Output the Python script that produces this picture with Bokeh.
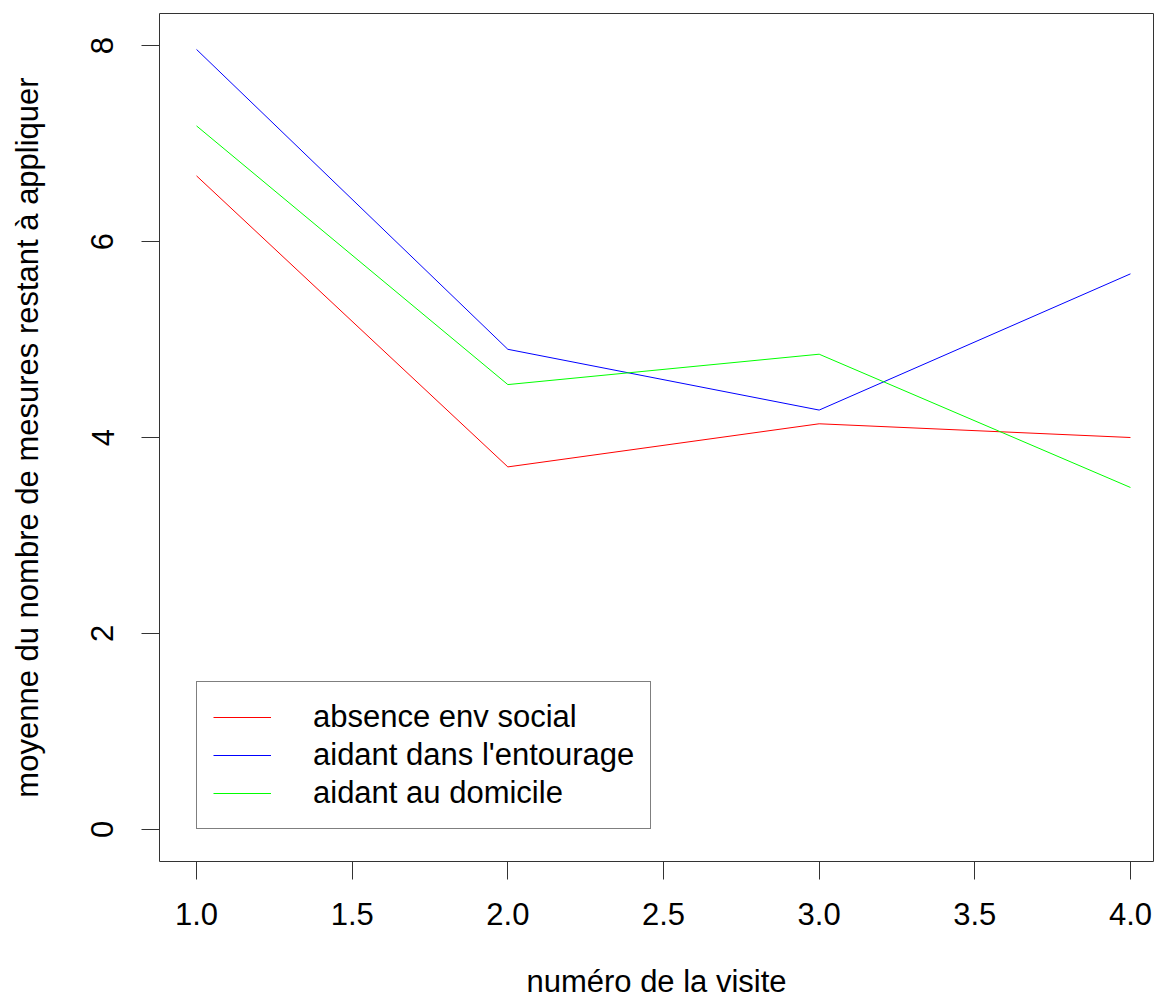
from bokeh.plotting import figure
from bokeh.models import Range1d, Legend, LegendItem, FixedTicker
from bokeh.embed import file_html
from bokeh.resources import INLINE

visites = [1, 2, 3, 4]
absence_env_social = [6.67, 3.70, 4.14, 4.00]
aidant_entourage = [7.96, 4.90, 4.28, 5.67]
aidant_domicile = [7.18, 4.54, 4.85, 3.49]
series_names = ["absence env social", "aidant dans l'entourage", "aidant au domicile"]
series_colors = ["#FF0000", "#0000FF", "#00FF00"]
x_ticks = [1.0, 1.5, 2.0, 2.5, 3.0, 3.5, 4.0]
y_ticks = [0, 2, 4, 6, 8]

FONT = "Liberation Sans"
FS = "31px"

p = figure(width=1154, height=1002, output_backend="svg", toolbar_location=None,
           x_range=Range1d(0.881, 4.074), y_range=Range1d(-0.327, 8.327),
           min_border_left=159, min_border_right=1, min_border_top=13, min_border_bottom=141)
p.background_fill_color = "white"
p.border_fill_color = "white"
p.grid.visible = False
p.outline_line_color = "#333333"
p.outline_line_width = 1

p.xaxis.axis_label = "numéro de la visite"
p.yaxis.axis_label = "moyenne du nombre de mesures restant à appliquer"
p.xaxis.ticker = FixedTicker(ticks=x_ticks)
p.yaxis.ticker = FixedTicker(ticks=y_ticks)
p.xaxis.major_label_overrides = {t: f"{t:.1f}" for t in x_ticks}
p.yaxis.major_label_overrides = {t: str(t) for t in y_ticks}
p.xaxis.bounds = (1, 4)
p.yaxis.bounds = (0, 8)
p.yaxis.major_label_orientation = "vertical"
for ax in (p.xaxis, p.yaxis):
    ax.major_tick_out = 18
    ax.major_tick_in = 0
    ax.minor_tick_line_color = None
    ax.axis_line_color = "#333333"
    ax.major_tick_line_color = "#333333"
    ax.major_label_text_font = FONT
    ax.major_label_text_font_size = FS
    ax.major_label_text_color = "black"
    ax.axis_label_text_font = FONT
    ax.axis_label_text_font_size = FS
    ax.axis_label_text_font_style = "normal"
    ax.axis_label_text_color = "black"
p.xaxis.major_label_standoff = 23
p.yaxis.major_label_standoff = 28
p.xaxis.axis_label_standoff = 36
p.yaxis.axis_label_standoff = 44

renderers = []
for ys, c in zip([absence_env_social, aidant_entourage, aidant_domicile], series_colors):
    r = p.line(visites, ys, line_color=c, line_width=1)
    renderers.append(r)

legend = Legend(items=[LegendItem(label=n, renderers=[r]) for n, r in zip(series_names, renderers)],
                location=(37, 32))
legend.label_text_font = FONT
legend.label_text_font_size = FS
legend.label_text_color = "black"
legend.glyph_width = 58
legend.glyph_height = 38
legend.label_height = 38
legend.label_standoff = 42
legend.spacing = 0
legend.padding = 16
legend.margin = 0
legend.border_line_color = "black"
legend.border_line_width = 1
legend.background_fill_alpha = 1.0
p.add_layout(legend, "center")

open("out.html", "w").write(file_html(p, INLINE))
